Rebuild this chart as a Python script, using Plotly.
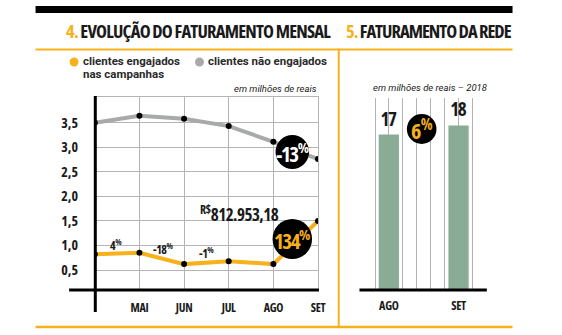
import plotly.graph_objects as go

W, H = 562, 335
def X(p): return p / W
def Y(p): return 1 - p / H

# ---- data ----
months = ["ABR", "MAI", "JUN", "JUL", "AGO", "SET"]
tick_months = ["MAI", "JUN", "JUL", "AGO", "SET"]
engajados = [0.82, 0.85, 0.62, 0.68, 0.62, 1.50]
nao_engajados = [3.50, 3.64, 3.58, 3.43, 3.11, 2.76]
y_ticks = [0.5, 1.0, 1.5, 2.0, 2.5, 3.0, 3.5]
y_ticktext = ["0,5", "1,0", "1,5", "2,0", "2,5", "3,0", "3,5"]
bar_months = ["AGO", "SET"]
rede = [17, 18]

ORANGE = "#f7b11b"
GRAY = "#a7aaa8"
GREEN = "#8aab95"
GRID = "#b4b4b4"
DARK = "#1a1a1a"
FAM = "Open Sans"
SANS = "Roboto"

def C(s, ls=0.0):
    """condensed bold text"""
    return f"<span style='font-stretch:75%;letter-spacing:{ls}px'><b>{s}</b></span>"

fig = go.Figure()
fig.add_trace(go.Scatter(x=months, y=nao_engajados, mode="lines+markers",
                         line=dict(color=GRAY, width=4),
                         marker=dict(color="black", size=6),
                         xaxis="x", yaxis="y", showlegend=False, hoverinfo="skip"))
fig.add_trace(go.Scatter(x=months, y=engajados, mode="lines+markers",
                         line=dict(color=ORANGE, width=4),
                         marker=dict(color="black", size=6),
                         xaxis="x", yaxis="y", showlegend=False, hoverinfo="skip"))
fig.add_trace(go.Bar(x=bar_months, y=rede, marker=dict(color=GREEN, line=dict(width=0)),
                     width=0.29, text=[C(str(v), -1.5) for v in rede], textposition="outside",
                     cliponaxis=False,
                     textfont=dict(family=FAM, size=19, color=DARK),
                     xaxis="x3", yaxis="y3", showlegend=False, hoverinfo="skip"))
fig.add_trace(go.Scatter(x=[], y=[], xaxis="x4", yaxis="y3", showlegend=False))

fig.update_layout(
    width=W, height=H, margin=dict(l=0, r=0, t=0, b=0),
    paper_bgcolor="white", plot_bgcolor="white",
    xaxis=dict(domain=[X(96), X(322)], type="category", range=[0, 5],
               categoryorder="array", categoryarray=months,
               tickvals=tick_months, ticktext=[C(m, -0.3) for m in tick_months],
               showgrid=True, gridcolor=GRID, gridwidth=1,
               showline=True, mirror=True, linecolor=GRID, linewidth=1, zeroline=False,
               ticks="", ticklabelstandoff=7,
               tickfont=dict(family=FAM, size=12, color=DARK), anchor="y"),
    yaxis=dict(domain=[Y(290), Y(97)], range=[0.093, 4.023],
               tickvals=y_ticks, ticktext=[C(t) for t in y_ticktext], showgrid=True,
               gridcolor=GRID, gridwidth=1, showline=True, mirror=True, linecolor=GRID,
               linewidth=1, zeroline=False, ticks="", ticklabelstandoff=13,
               tickfont=dict(family=FAM, size=14, color=DARK), anchor="x"),
    xaxis3=dict(domain=[X(365.7), X(492)], type="category",
                range=[-0.397, 1.392], showgrid=False, showline=False,
                zeroline=False, ticks="", ticklabelstandoff=7,
                tickvals=bar_months, ticktext=[C(m, -0.3) for m in bar_months],
                tickfont=dict(family=FAM, size=12, color=DARK), anchor="y3"),
    xaxis4=dict(overlaying="x3", range=[0, 9], dtick=1, showgrid=True,
                gridcolor=GRID, gridwidth=1, showticklabels=False,
                zeroline=False, showline=False, anchor="y3"),
    yaxis3=dict(domain=[Y(290), Y(98)], range=[0, 21], showgrid=False,
                showticklabels=False, zeroline=False, showline=False, anchor="x3"),
)

shapes = []
def line(x0, y0, x1, y1, color, w):
    shapes.append(dict(type="line", xref="paper", yref="paper",
                       x0=X(x0), y0=Y(y0), x1=X(x1), y1=Y(y1),
                       line=dict(color=color, width=w)))
def circle(cx, cy, r, color):
    shapes.append(dict(type="circle", xref="paper", yref="paper",
                       x0=X(cx - r), x1=X(cx + r), y0=Y(cy + r), y1=Y(cy - r),
                       fillcolor=color, line=dict(width=0), layer="above"))

# frame
shapes.append(dict(type="rect", xref="paper", yref="paper", x0=X(36), x1=X(519),
                   y0=Y(13), y1=Y(6), fillcolor="black", line=dict(width=0)))
line(36, 49.5, 519, 49.5, ORANGE, 2)
line(36, 327, 519, 327, ORANGE, 2.5)
line(343, 49.5, 343, 327, ORANGE, 2)
# axes of left chart
line(96.5, 96, 96.5, 312, "black", 3)
line(70, 290, 323, 290, "black", 3)
# axis of right chart
line(364, 290, 493, 290, "black", 3)
# legend dots
circle(75, 62, 4.5, ORANGE)
circle(202, 62, 4.5, GRAY)
# badges
circle(296, 152, 17, "black")
circle(296, 239, 20, "black")
circle(427, 129, 15, "black")
fig.update_layout(shapes=shapes)

ann = []
def text(x, y, s, size, color=DARK, family=FAM, xanchor="center", yanchor="middle"):
    ann.append(dict(x=X(x), y=Y(y), xref="paper", yref="paper", text=s,
                    showarrow=False, xanchor=xanchor, yanchor=yanchor,
                    font=dict(family=family, size=size, color=color)))

text(65, 30, C(f"<span style='color:{ORANGE}'>4.</span> EVOLUÇÃO DO FATURAMENTO MENSAL", -0.8), 18.5, xanchor="left")
text(348, 30, C(f"<span style='color:{ORANGE}'>5.</span> FATURAMENTO DA REDE", -1.0), 18.5, xanchor="left")
text(82, 61, "<b>clientes engajados</b>", 11.5, color="#2a2a2a", family=SANS, xanchor="left")
text(82, 73.5, "<b>nas campanhas</b>", 11.5, color="#2a2a2a", family=SANS, xanchor="left")
text(209, 61, "<b>clientes não engajados</b>", 11.5, color="#2a2a2a", family=SANS, xanchor="left")
text(323, 88, "<i>em milhões de reais</i>", 9.5, family=SANS, xanchor="right")
text(435, 87, "<i>em milhões de reais – 2018</i>", 9.5, family=SANS)
text(117, 245, C("4<sup>%</sup>", -0.5), 12)
text(165, 249, C("-18<sup>%</sup>", -0.5), 12)
text(209, 253, C("-1<sup>%</sup>", -0.5), 12)
text(243, 213, C("<sup>R$</sup>812.953,18", -0.5), 17)
text(296, 152, C("-13<sup>%</sup>", -1.5), 21, color="white")
text(296, 239, C("134<sup>%</sup>", -1.5), 21, color=ORANGE)
text(427, 129, C("6<sup>%</sup>", -0.5), 22, color=ORANGE)
fig.update_layout(annotations=ann)

fig.write_html("out.html")
